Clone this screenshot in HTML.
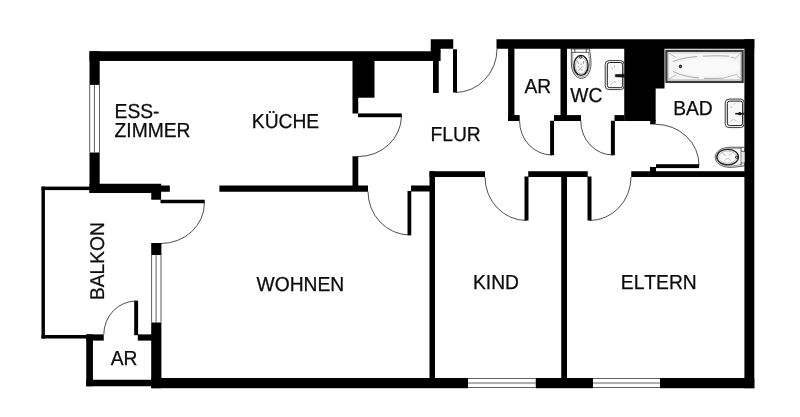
<!DOCTYPE html>
<html>
<head>
<meta charset="utf-8">
<title>Grundriss</title>
<style>
html,body{margin:0;padding:0;background:#fff;}
body{width:800px;height:417px;overflow:hidden;position:relative;font-family:"Liberation Sans",sans-serif;}
svg{position:absolute;left:0;top:0;display:block;}
.w{fill:#000;}
.a{fill:none;stroke:#222;stroke-width:0.8;}
.g{stroke:#5e5e5e;stroke-width:1;fill:none;}
text{font-family:"Liberation Sans",sans-serif;font-size:19.1px;fill:#0c0c0c;stroke:#0c0c0c;stroke-width:0.25px;text-rendering:geometricPrecision;font-kerning:none;}
</style>
</head>
<body>
<svg width="800" height="417" viewBox="0 0 800 417">
<rect x="0" y="0" width="800" height="417" fill="#fff"/>

<!-- ===== WALLS ===== -->
<g class="w">
<!-- ESS/KUECHE top wall -->
<rect x="89.5" y="51.25" width="351.1" height="9.7"/>
<!-- left wall upper / lower -->
<rect x="89.5" y="51.25" width="10.2" height="33.65"/>
<rect x="89.5" y="152.5" width="10.2" height="40.5"/>
<!-- ESS bottom wall -->
<rect x="89.5" y="183.75" width="71.6" height="9.25"/>
<rect x="160" y="185.5" width="9.8" height="6.25"/>
<rect x="151.25" y="192" width="9.85" height="7.75"/>
<rect x="160.5" y="199.75" width="44.25" height="3.5"/>
<!-- wall KUECHE / WOHNEN -->
<rect x="219.4" y="185.5" width="148.6" height="6.25"/>
<rect x="352.5" y="156.25" width="5.75" height="30"/>
<!-- pillar -->
<rect x="352.5" y="60" width="22" height="37.7"/>
<rect x="352.5" y="97" width="5.75" height="16.5"/>
<rect x="358" y="113.4" width="43.8" height="3.8"/>
<!-- entry -->
<rect x="430.75" y="39.25" width="22.5" height="9.5"/>
<rect x="430.75" y="48" width="9.85" height="4"/>
<rect x="433" y="48.75" width="5.75" height="44.25"/>
<rect x="453" y="49.25" width="4" height="43.25"/>
<!-- top wall right -->
<rect x="496.5" y="39.25" width="257.8" height="9.5"/>
<!-- AR top -->
<rect x="508.1" y="48" width="6.3" height="73"/>
<rect x="508.1" y="115.1" width="11.6" height="5.9"/>
<rect x="560.5" y="48" width="6.5" height="73"/>
<rect x="554" y="115.1" width="27" height="5.9"/>
<rect x="550.1" y="120.75" width="3.95" height="34.45"/>
<!-- WC -->
<rect x="614.5" y="115.1" width="10" height="5.9"/>
<rect x="610.9" y="120.75" width="4" height="34.45"/>
<!-- big block -->
<rect x="624.25" y="48" width="40.25" height="40.5"/>
<rect x="624.25" y="88" width="31.4" height="33"/>
<rect x="650.2" y="120" width="5.45" height="4.4"/>
<!-- right wall -->
<rect x="744.4" y="39.25" width="9.9" height="348.95"/>
<!-- BAD bottom / ELTERN top -->
<rect x="631.25" y="171.25" width="114" height="5.75"/>
<rect x="650" y="167" width="6" height="5"/>
<rect x="656" y="164.2" width="43.1" height="3.9"/>
<!-- KIND top -->
<rect x="429.5" y="171.25" width="55.5" height="5.75"/>
<rect x="528.25" y="171.25" width="59.5" height="5.75"/>
<rect x="429.5" y="171.25" width="5.5" height="208"/>
<rect x="561.25" y="176" width="5.75" height="203"/>
<rect x="524.5" y="176.5" width="4" height="44"/>
<rect x="587.5" y="176.5" width="4" height="44"/>
<!-- small wall + WOHNEN door leaf -->
<rect x="411" y="185.5" width="19" height="6"/>
<rect x="407.5" y="191" width="3.75" height="44.3"/>
<!-- bottom wall -->
<rect x="151.5" y="378" width="316.5" height="10.2"/>
<rect x="535.75" y="378" width="57.25" height="10.2"/>
<rect x="660" y="378" width="94.3" height="10.2"/>
<!-- left lower wall -->
<rect x="151.2" y="322.5" width="10.2" height="65.7"/>
<rect x="151.2" y="243" width="10.2" height="12"/>
<!-- AR bottom-left -->
<rect x="86.25" y="334.4" width="6.7" height="51.85"/>
<rect x="86.25" y="334.4" width="17.5" height="6.2"/>
<rect x="137.8" y="334.4" width="14.2" height="6.2"/>
<rect x="134.2" y="300.7" width="3.9" height="34.5"/>
<rect x="86.25" y="379.75" width="66" height="6.5"/>
<!-- balcony -->
<rect x="41.5" y="186.6" width="3.4" height="151.9"/>
<rect x="41.5" y="186.6" width="49" height="3.5"/>
<rect x="41.5" y="335" width="45.5" height="3.5"/>
</g>

<!-- ===== WINDOWS ===== -->
<g class="g">
<path d="M89.7 84.5V152.5M94.4 84.5V152.5M99.5 84.5V152.5"/>
<path d="M151.6 254.5V322.5M156.1 254.5V322.5M161 254.5V322.5"/>
<path d="M468 378.5H535.75M468 383H535.75M468 387.5H535.75"/>
<path d="M593 378.5H660M593 383H660M593 387.5H660"/>
</g>

<!-- ===== DOOR ARCS ===== -->
<g class="a">
<path d="M204.4 203 A43.4 40.5 0 0 1 161 243.5"/>
<path d="M401.5 116 A43 41 0 0 1 358 156.5"/>
<path d="M409.5 235 A42 43.5 0 0 1 368 191.5"/>
<path d="M455 92.5 A42 43.5 0 0 0 497 49"/>
<path d="M552 155 A32.4 34 0 0 1 519.6 121"/>
<path d="M613 155 A32.2 34 0 0 1 580.8 121"/>
<path d="M699 165 A43.4 40.7 0 0 0 655.6 124.3"/>
<path d="M526.5 220.5 A41.5 43.5 0 0 1 485 177"/>
<path d="M589.5 220.5 A41.5 43.5 0 0 0 631 177"/>
<path d="M136.2 301 A32.4 33.5 0 0 0 103.8 334.5"/>
</g>

<!-- ===== FIXTURES ===== -->
<g fill="none" stroke="#2a2a2a" stroke-width="0.8">
<!-- WC toilet -->
<path d="M571.3 49 L571.3 63 C571.3 72.5 576.3 78.4 581.2 78.4 C586.6 78.4 591 72.5 591 63 C591 57.5 589.8 53 589.5 49 Z" fill="#fff" stroke="#1e1e1e" stroke-width="0.75"/>
<path d="M572.7 52.4 C572.7 52.4 572.6 62 572.7 64 C573 71.8 576.8 77 581.2 77 C585.7 77 589.6 71.5 589.6 63 C589.6 58 588.6 54.5 588.3 52.4" stroke="#444" stroke-width="0.55"/>
<path d="M571 52.3H589.3M574.8 49V52.3M586.3 49V52.3" stroke="#333" stroke-width="0.8"/>
<ellipse cx="581" cy="65.4" rx="7.1" ry="10" fill="#fafafa" stroke="#1a1a1a" stroke-width="1.4"/>
<ellipse cx="581" cy="65.6" rx="5.5" ry="8.3" stroke="#777" stroke-width="0.5"/>
<circle cx="580.6" cy="57.2" r="1.1" fill="#ddd" stroke="#111" stroke-width="0.9"/>
<path d="M577.5 61.5l1 2.2M583.8 61l-.6 2.8M578.5 70.5l4-4M582.5 71l-1.8-1.8M577.8 66.5l1.4.7M581 63.5l.2 1.5" stroke="#777" stroke-width="0.7"/>
<!-- WC sink -->
<rect x="605.2" y="60.6" width="19" height="29" rx="3.8" fill="#fff" stroke="#222" stroke-width="0.9"/>
<rect x="607.3" y="62.5" width="15.4" height="25.2" rx="2.4" fill="#f8f8f8" stroke="#1c1c1c" stroke-width="1"/>
<path d="M612 67.5l.3 2M614.5 65.5l.2 2.2M610.5 85l3-3.5M614.5 81l1.2 2" stroke="#999" stroke-width="0.6"/>
<path d="M615.3 74.6L624.5 74.2V77.2L615.3 76.8Z" fill="#111" stroke="#111" stroke-width="0.5"/>
<!-- bathtub -->
<rect x="666.4" y="50.9" width="76.2" height="31" fill="#f5f5f5" stroke="#3a3a3a" stroke-width="2.3"/>
<rect x="668.6" y="53" width="71.7" height="26.3" fill="none" stroke="#bbb" stroke-width="0.6"/>
<path d="M669 53.3L676 57.5M669 79L676 75M741 52.5L736 58.2L730.5 57M741 79.5L736.5 74.5L722 78.5" stroke="#999" stroke-width="0.6"/>
<path d="M673 61.5C680 58.5 690 57 697 56.6M703 56.2C715 55.6 725 55.8 729 56.2M673 71.5C680 75 690 77.3 699 78M704 78.3C712 78.6 718 78.4 722 78.2" stroke="#888" stroke-width="0.7"/>
<ellipse cx="708" cy="67" rx="32" ry="9" fill="#f9f9f9" stroke="none"/>
<circle cx="680.4" cy="66.4" r="1.3" fill="#555" stroke="#111" stroke-width="0.9"/>
<!-- BAD sink -->
<rect x="725.2" y="99.1" width="19" height="28.5" rx="3.8" fill="#fff" stroke="#222" stroke-width="0.9"/>
<rect x="727.3" y="101.1" width="15.3" height="24.5" rx="2.4" fill="#f8f8f8" stroke="#1c1c1c" stroke-width="1"/>
<path d="M731 106l.3 2M734 104.5l1.5-1.5M730.5 122l3-3M734.5 119.5l1 1.5" stroke="#999" stroke-width="0.6"/>
<path d="M735.3 113.7H745" stroke="#161616" stroke-width="1.6"/>
<circle cx="739.8" cy="113.7" r="1.6" fill="#111" stroke="none"/>
<!-- BAD toilet -->
<path d="M744.5 147.3 L731 147.2 C721 147.2 715.2 152 715.2 157.2 C715.2 162.5 721 167.3 730 167.3 C736 167.3 740.5 166.2 744.5 165.8 Z" fill="#fff"/>
<path d="M741 148.6 C741 148.6 732 148.5 730.5 148.6 C722 148.9 716.7 152.8 716.7 157.2 C716.7 161.8 722.3 165.9 730.5 165.9 C735.5 165.9 738.5 164.8 741 164.4" stroke="#555" stroke-width="0.6"/>
<path d="M741.1 147.4V165.8M741.1 151.3H744.5M741.1 163H744.5" stroke="#333" stroke-width="0.8"/>
<rect x="741.6" y="152" width="3" height="10.4" fill="#e8e8e8" stroke="none"/>
<ellipse cx="727.7" cy="157.1" rx="10.8" ry="7.8" fill="#fafafa" stroke="#222" stroke-width="1.3"/>
<ellipse cx="727.5" cy="157.1" rx="9" ry="6.1" stroke="#888" stroke-width="0.5"/>
<circle cx="736.6" cy="157.3" r="1.1" fill="#ddd" stroke="#111" stroke-width="0.9"/>
<path d="M722 152.5l4 3.5M726 159l3-1M730.5 153.5l-1 2.5M731 160.5l-2-1.5M724.5 161l1-1.5" stroke="#999" stroke-width="0.6"/>
</g>

<!-- ===== LABELS ===== -->
<g class="t" style="opacity:0.999">
<text transform="translate(114.6 117.6) scale(1.008 1.06)">ESS-</text>
<text transform="translate(114.6 136.6) scale(1.008 1.06)">ZIMMER</text>
<text transform="translate(251.8 127.8) scale(1.008 1.06)">KÜCHE</text>
<text transform="translate(430.5 140.9) scale(1.008 1.06)">FLUR</text>
<text transform="translate(524.5 92.5) scale(1.008 1.06)">AR</text>
<text transform="translate(570.3 101.9) scale(1.008 1.06)">WC</text>
<text transform="translate(673.2 115) scale(1.008 1.06)">BAD</text>
<text transform="translate(256.5 291.2) scale(1.008 1.06)">WOHNEN</text>
<text transform="translate(473 288.6) scale(1.008 1.06)">KIND</text>
<text transform="translate(620.8 288.7) scale(1.008 1.06)">ELTERN</text>
<text transform="translate(110.7 364.7) scale(1.008 1.06)">AR</text>
<text transform="translate(103.7 300) rotate(-90) scale(1.005 1.04)">BALKON</text>
</g>
</svg>
</body>
</html>
